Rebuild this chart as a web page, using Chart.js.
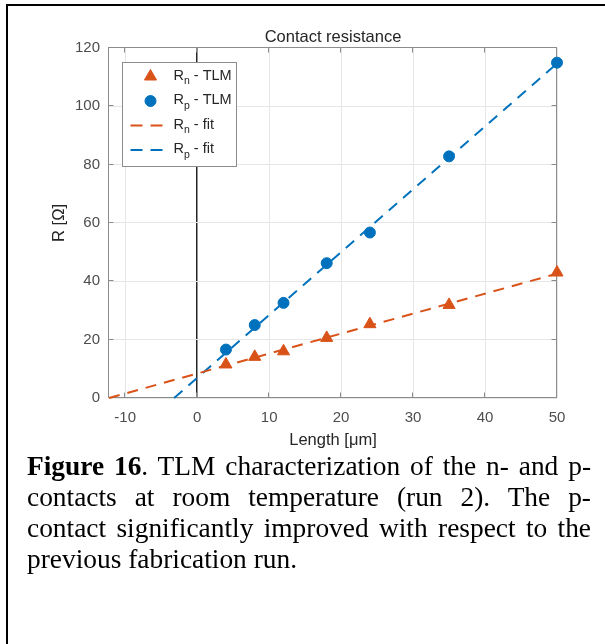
<!DOCTYPE html>
<html>
<head>
<meta charset="utf-8">
<script src="https://cdn.jsdelivr.net/npm/chart.js@4.4.1/dist/chart.umd.min.js"></script>
<style>
  html, body { margin: 0; padding: 0; background: #fff; }
  #page { position: relative; width: 605px; height: 644px; overflow: hidden; }
  #frame { position: absolute; left: 6px; top: 4px; width: 610px; height: 650px;
           border-top: 2px solid #000; border-left: 2px solid #000; }
  #tlmChart { position: absolute; left: 0; top: 0; }
  #caption { position: absolute; left: 27px; top: 451px; width: 564px;
             font-family: 'Liberation Serif', 'Times New Roman', serif;
             font-size: 27.4px; line-height: 31px; text-align: justify; color: #000; }
</style>
</head>
<body>
<div id="page">
  <div id="frame"></div>
  <canvas id="tlmChart" width="605" height="452"></canvas>
  <div id="caption"><b>Figure 16</b>. TLM characterization of the n- and p-contacts at room temperature (run 2). The p-contact significantly improved with respect to the previous fabrication run.</div>
</div>

<script>
// ── Data ──
const lengths = [4, 8, 12, 18, 24, 35, 50];              // µm
const rnTLM   = [11.5, 14.1, 16.0, 20.6, 25.3, 31.9, 43.0]; // Ω
const rpTLM   = [16.6, 25.0, 32.6, 46.2, 56.7, 82.8, 114.9];

// fit lines: end points as drawn
const rnFitX = [-12.25, 50];
const rnFitY = [0, 42.6];
const rpFitX = [-3.2, 50];
const rpFitY = [0, 114.6];

const xTicks = [-10, 0, 10, 20, 30, 40, 50];
const yTicks = [0, 20, 40, 60, 80, 100, 120];

const seriesLabels = ['R_n - TLM', 'R_p - TLM', 'R_n - fit', 'R_p - fit'];

const RED  = '#D95319';
const BLUE = '#0072BD';
const AXIS = '#8c8c8c';
const FONT = "'Liberation Sans', Arial, Helvetica, sans-serif";

const pts = (xs, ys) => xs.map((x, i) => ({ x, y: ys[i] }));

// ── MATLAB-style box with inward ticks ──
const boxPlugin = {
  id: 'matlabBox',
  beforeDatasetsDraw(chart) {
    const { ctx, chartArea: a, scales } = chart;
    const L = Math.round(a.left) - 0.5, R = Math.round(a.right) - 0.5;
    const T = Math.round(a.top) - 0.5, B = Math.round(a.bottom) - 0.5;
    const tl = 5;
    ctx.save();
    ctx.strokeStyle = AXIS;
    ctx.lineWidth = 1;
    ctx.strokeRect(L, T, R - L, B - T);
    ctx.beginPath();
    xTicks.forEach(v => {
      const px = Math.round(scales.x.getPixelForValue(v)) - 0.5;
      ctx.moveTo(px, B); ctx.lineTo(px, B - tl);
      ctx.moveTo(px, T); ctx.lineTo(px, T + tl);
    });
    yTicks.forEach(v => {
      const py = Math.round(scales.y.getPixelForValue(v)) - 0.5;
      ctx.moveTo(L, py); ctx.lineTo(L + tl, py);
      ctx.moveTo(R, py); ctx.lineTo(R - tl, py);
    });
    ctx.stroke();
    ctx.restore();
  }
};

// ── Legend inside the axes, with subscripts ──
const legendPlugin = {
  id: 'matlabLegend',
  afterDraw(chart) {
    const { ctx, chartArea: a } = chart;
    const x0 = Math.round(a.left) + 13.5, y0 = Math.round(a.top) + 14.5;
    const w = 114, h = 104;
    ctx.save();
    ctx.fillStyle = '#fff';
    ctx.fillRect(x0, y0, w, h);
    ctx.strokeStyle = AXIS;
    ctx.lineWidth = 1;
    ctx.strokeRect(x0, y0, w, h);

    chart.data.datasets.forEach((ds, i) => {
      const y = y0 + 14 + i * 24.5;
      if (ds.showLine) {
        ctx.save();
        ctx.strokeStyle = ds.borderColor;
        ctx.lineWidth = ds.borderWidth;
        ctx.setLineDash([12, 8]);
        ctx.beginPath();
        ctx.moveTo(x0 + 8, y); ctx.lineTo(x0 + 41, y);
        ctx.stroke();
        ctx.restore();
      } else {
        ctx.fillStyle = ds.backgroundColor;
        ctx.strokeStyle = ds.borderColor;
        Chart.helpers.drawPoint(ctx, {
          pointStyle: ds.pointStyle, radius: ds.pointRadius, borderWidth: 1, rotation: 0
        }, x0 + 28, y);
      }
      // text: main, subscript, rest
      const m = seriesLabels[i].match(/^(.*?)_(\w)(.*)$/);
      let tx = x0 + 51;
      ctx.fillStyle = '#262626';
      ctx.textBaseline = 'middle';
      ctx.textAlign = 'left';
      ctx.font = '14.5px ' + FONT;
      ctx.fillText(m[1], tx, y - 1);
      tx += ctx.measureText(m[1]).width;
      ctx.font = '10.5px ' + FONT;
      ctx.fillText(m[2], tx, y + 5);
      tx += ctx.measureText(m[2]).width;
      ctx.font = '14.5px ' + FONT;
      ctx.fillText(m[3], tx, y - 1);
    });
    ctx.restore();
  }
};

const chart = new Chart(document.getElementById('tlmChart'), {
  type: 'scatter',
  data: {
    datasets: [
      {
        label: seriesLabels[0],
        data: pts(lengths, rnTLM),
        pointStyle: 'triangle',
        pointRadius: 7,
        backgroundColor: RED,
        borderColor: RED,
        showLine: false,
        clip: false,
        order: 2
      },
      {
        label: seriesLabels[1],
        data: pts(lengths, rpTLM),
        pointStyle: 'circle',
        pointRadius: 5.5,
        backgroundColor: BLUE,
        borderColor: BLUE,
        showLine: false,
        clip: false,
        order: 2
      },
      {
        label: seriesLabels[2],
        data: pts(rnFitX, rnFitY),
        showLine: true,
        borderColor: RED,
        backgroundColor: RED,
        borderWidth: 2,
        borderDash: [11, 8],
        pointRadius: 0,
        clip: false,
        order: 1
      },
      {
        label: seriesLabels[3],
        data: pts(rpFitX, rpFitY),
        showLine: true,
        borderColor: BLUE,
        backgroundColor: BLUE,
        borderWidth: 2,
        borderDash: [11, 8],
        pointRadius: 0,
        clip: false,
        order: 1
      }
    ]
  },
  options: {
    responsive: false,
    animation: false,
    layout: { padding: { left: 50, right: 48, top: 28, bottom: 2 } },
    plugins: {
      legend: { display: false },
      tooltip: { enabled: false },
      title: {
        display: true,
        text: 'Contact resistance',
        fullSize: false,
        color: '#262626',
        font: { family: FONT, size: 16.5, weight: 'normal' },
        padding: { top: 0, bottom: 0 }
      }
    },
    scales: {
      x: {
        type: 'linear',
        min: -12.25,
        max: 50,
        afterBuildTicks: s => { s.ticks = xTicks.map(v => ({ value: v })); },
        afterFit: s => { s.height = 52; },
        border: { display: false },
        grid: {
          drawTicks: false,
          color: c => c.tick && c.tick.value === 0 ? '#262626' : '#e6e6e6',
          lineWidth: c => c.tick && c.tick.value === 0 ? 1.5 : 1
        },
        ticks: { color: '#4d4d4d', font: { family: FONT, size: 15 }, padding: 11, maxRotation: 0 },
        title: {
          display: true,
          text: 'Length [μm]',
          color: '#262626',
          font: { family: FONT, size: 16.5 },
          padding: { top: 0, bottom: 0 }
        }
      },
      y: {
        min: 0,
        max: 120,
        afterBuildTicks: s => { s.ticks = yTicks.map(v => ({ value: v })); },
        afterFit: s => { s.width = 59; },
        border: { display: false },
        grid: { drawTicks: false, color: '#e6e6e6' },
        ticks: { color: '#4d4d4d', font: { family: FONT, size: 15 }, padding: 9 },
        title: {
          display: true,
          text: 'R [Ω]',
          color: '#262626',
          font: { family: FONT, size: 16.5 },
          padding: { top: 0, bottom: 0 }
        }
      }
    }
  },
  plugins: [boxPlugin, legendPlugin]
});
</script>
</body>
</html>
